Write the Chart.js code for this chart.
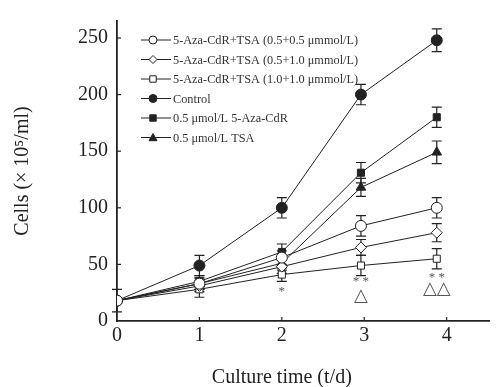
<!DOCTYPE html>
<html><head><meta charset="utf-8">
<script src="https://cdn.jsdelivr.net/npm/chart.js@4/dist/chart.umd.min.js"></script>
<style>html,body{margin:0;padding:0;background:#fff}#wrap{width:496px;height:387px}</style>
</head><body><div id="wrap"><canvas id="c" width="496" height="387"></canvas></div>
<script>
// positions of the measurement days as read (points at day 3/4 sit slightly left of ticks)
const days = [0, 1, 2, 2.96, 3.88];
const tickDays = [0, 1, 2, 3, 4];
const yTicks = [0, 50, 100, 150, 200, 250];
const xTitle = 'Culture time (t/d)';
const yTitle = 'Cells (× 10⁵/ml)';

const names = [
  '5-Aza-CdR+TSA (0.5+0.5 μmmol/L)',
  '5-Aza-CdR+TSA (0.5+1.0 μmmol/L)',
  '5-Aza-CdR+TSA (1.0+1.0 μmmol/L)',
  'Control',
  '0.5 μmol/L 5-Aza-CdR',
  '0.5 μmol/L TSA'
];
const combo55   = [18, 33, 56, 84, 100];
const combo510  = [18, 31, 48, 65, 78];
const combo1010 = [18, 28, 41, 49, 55];
const control   = [18, 49, 100, 200, 248];
const aza       = [18, 35, 61, 131, 180];
const tsa       = [18, 33, 51, 118, 149];

const combo55Err   = [0, 5, 6, 9, 9];
const combo510Err  = [0, 5, 6, 7, 8];
const combo1010Err = [0, 7, 6, 9, 9];
const controlErr   = [10, 9, 9, 9, 10];
const azaErr       = [0, 5, 7, 9, 9];
const tsaErr       = [0, 5, 6, 8, 10];

// significance marks: [x, y, text]
const marks = [
  [2, 26, '*'],
  [2.96, 35, '* *'],
  [2.96, 22, '△'],
  [3.88, 38, '* *'],
  [3.88, 28, '△△']
];

const INK = '#222';
const styles = [
  {pt:'circle', fill:'#fff', r:5.5},
  {pt:'rectRot', fill:'#fff', r:5.5},
  {pt:'rect', fill:'#fff', r:5},
  {pt:'circle', fill:INK, r:5.5},
  {pt:'rect', fill:INK, r:5},
  {pt:'triangle', fill:INK, r:5.5}
];
const values = [combo55, combo510, combo1010, control, aza, tsa];
const errs = [combo55Err, combo510Err, combo1010Err, controlErr, azaErr, tsaErr];

const datasets = values.map((v, i) => ({
  label: names[i],
  data: v.map((y, k) => ({x: days[k], y: y})),
  borderColor: INK, borderWidth: 1,
  pointStyle: styles[i].pt, pointRadius: styles[i].r,
  pointBackgroundColor: styles[i].fill, pointBorderColor: INK, pointBorderWidth: 1,
  errors: errs[i], tension: 0
}));

function marker(ctx, style, x, y, r, fill) {
  ctx.save();
  ctx.beginPath();
  if (style === 'circle') ctx.arc(x, y, r, 0, Math.PI * 2);
  else if (style === 'rect') ctx.rect(x - r * 0.8, y - r * 0.8, r * 1.6, r * 1.6);
  else if (style === 'rectRot') { ctx.moveTo(x, y - r); ctx.lineTo(x + r, y); ctx.lineTo(x, y + r); ctx.lineTo(x - r, y); ctx.closePath(); }
  else if (style === 'triangle') { ctx.moveTo(x, y - r); ctx.lineTo(x + r, y + r * 0.8); ctx.lineTo(x - r, y + r * 0.8); ctx.closePath(); }
  ctx.fillStyle = fill; ctx.fill();
  ctx.strokeStyle = INK; ctx.lineWidth = 1; ctx.stroke();
  ctx.restore();
}

const extras = {
  id: 'extras',
  beforeDatasetsDraw(chart) {
    const ctx = chart.ctx, xs = chart.scales.x, ys = chart.scales.y;
    ctx.save();
    ctx.strokeStyle = INK; ctx.lineWidth = 1.2;
    chart.data.datasets.forEach(ds => {
      ds.data.forEach((p, k) => {
        const e = ds.errors[k]; if (!e) return;
        const px = xs.getPixelForValue(p.x);
        const t = ys.getPixelForValue(p.y + e), b = ys.getPixelForValue(p.y - e);
        ctx.beginPath();
        ctx.moveTo(px, t); ctx.lineTo(px, b);
        ctx.moveTo(px - 5, t); ctx.lineTo(px + 5, t);
        ctx.moveTo(px - 5, b); ctx.lineTo(px + 5, b);
        ctx.stroke();
      });
    });
    ctx.restore();
  },
  afterDraw(chart) {
    const ctx = chart.ctx, xs = chart.scales.x, ys = chart.scales.y, a = chart.chartArea;
    ctx.save();
    // inward ticks
    ctx.strokeStyle = INK; ctx.lineWidth = 1.2;
    tickDays.slice(1).forEach(d => {
      const px = xs.getPixelForValue(d);
      ctx.beginPath(); ctx.moveTo(px, a.bottom); ctx.lineTo(px, a.bottom - 4); ctx.stroke();
    });
    yTicks.slice(1).forEach(v => {
      const py = ys.getPixelForValue(v);
      ctx.beginPath(); ctx.moveTo(a.left, py); ctx.lineTo(a.left + 4, py); ctx.stroke();
    });
    // axis titles
    ctx.fillStyle = '#222'; ctx.textAlign = 'center'; ctx.textBaseline = 'middle';
    ctx.font = '20px "Liberation Serif"';
    const xc = (xs.getPixelForValue(tickDays[0]) + xs.getPixelForValue(tickDays[tickDays.length - 1])) / 2;
    ctx.fillText(xTitle, xc, 378);
    ctx.save();
    ctx.translate(23, (a.top + a.bottom) / 2);
    ctx.rotate(-Math.PI / 2);
    ctx.fillText(yTitle, 0, 0);
    ctx.restore();
    // significance marks
    ctx.fillStyle = '#555';
    marks.forEach(m => {
      if (m[2].indexOf('△') >= 0) ctx.font = '18px "DejaVu Sans"';
      else ctx.font = '13px "Liberation Serif"';
      ctx.fillText(m[2], xs.getPixelForValue(m[0]), ys.getPixelForValue(m[1]));
    });
    // legend
    const lx = a.left + 24, ly = a.top + 19;
    ctx.font = '12.3px "Liberation Serif"'; ctx.textAlign = 'left'; ctx.fillStyle = '#333';
    names.forEach((n, i) => {
      const y = ly + i * 19.5;
      ctx.strokeStyle = INK; ctx.lineWidth = 1;
      ctx.beginPath(); ctx.moveTo(lx, y); ctx.lineTo(lx + 30, y); ctx.stroke();
      marker(ctx, styles[i].pt, lx + 12, y, 4, styles[i].fill);
      ctx.fillText(n, lx + 32, y + 1);
    });
    ctx.restore();
  }
};

new Chart(document.getElementById('c'), {
  type: 'line',
  data: {datasets},
  options: {
    responsive: false, animation: false,
    layout: {padding: {top: 12, right: 6, left: 0, bottom: 0}},
    plugins: {legend: {display: false}, tooltip: {enabled: false}},
    scales: {
      x: {
        type: 'linear', min: 0, max: 4.52,
        afterBuildTicks(s) { s.ticks = tickDays.map(v => ({value: v})); },
        afterFit(s) { s.height = 66; },
        grid: {drawOnChartArea: false, drawTicks: false},
        border: {display: true, color: INK, width: 1.8},
        ticks: {color: '#222', padding: 3, font: {family: 'Liberation Serif', size: 20}}
      },
      y: {
        min: 0, max: 265,
        afterBuildTicks(s) { s.ticks = yTicks.map(v => ({value: v})); },
        afterFit(s) { s.width = 117; },
        grid: {drawOnChartArea: false, drawTicks: false},
        border: {display: true, color: INK, width: 1.8},
        ticks: {color: '#222', padding: 9, font: {family: 'Liberation Serif', size: 20}}
      }
    }
  },
  plugins: [extras]
});
</script></body></html>
